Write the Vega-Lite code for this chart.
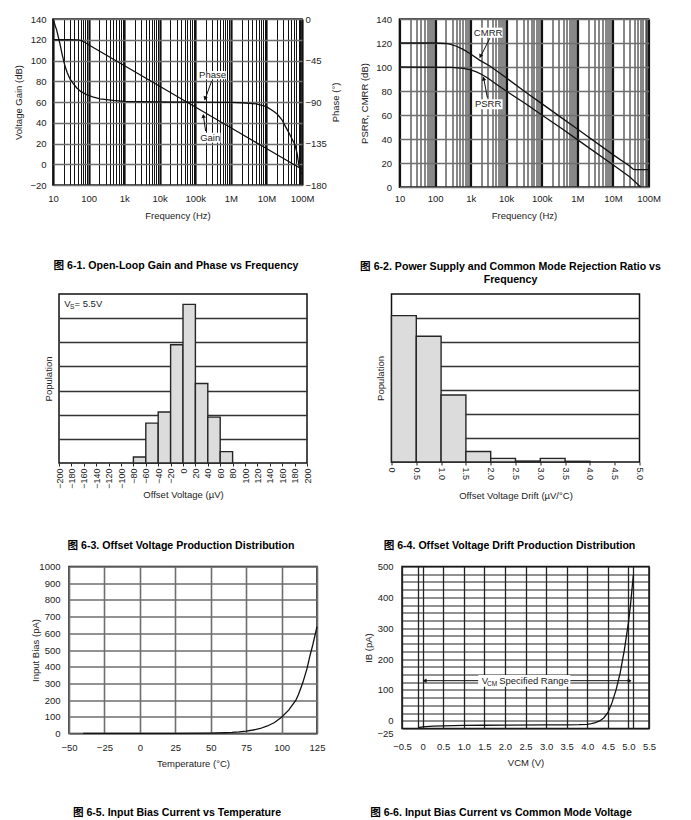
{
"$schema": "https://vega.github.io/schema/vega-lite/v6.json",
"padding": {"left": 0, "top": 13, "right": 5, "bottom": 5},
"background": "white",
"datasets": {
"gain": [{"f":10,"g":120},{"f":30,"g":120},{"f":50,"g":119.9},{"f":60,"g":119.4},{"f":70,"g":118.4},{"f":80,"g":117.3},{"f":100,"g":115.2},{"f":1000,"g":95.2},{"f":10000,"g":75.2},{"f":100000,"g":55.2},{"f":1000000,"g":35.2},{"f":10000000,"g":15.2},{"f":100000000,"g":-4.8}],
"phase": [{"f":10,"p":0},{"f":12.7,"p":-12},{"f":15.7,"p":-27},{"f":18,"p":-38},{"f":21.7,"p":-51},{"f":25,"p":-58},{"f":30,"p":-65},{"f":38,"p":-70.5},{"f":46,"p":-74.5},{"f":60,"p":-78.5},{"f":88,"p":-82},{"f":130,"p":-84.5},{"f":210,"p":-86.5},{"f":490,"p":-88.3},{"f":1000,"p":-89.3},{"f":10000,"p":-90},{"f":1000000,"p":-90.3},{"f":2000000,"p":-90.8},{"f":5200000,"p":-92},{"f":10000000,"p":-95},{"f":15500000,"p":-99.8},{"f":20000000,"p":-103},{"f":27000000,"p":-109},{"f":36000000,"p":-118},{"f":45000000,"p":-125},{"f":63000000,"p":-136},{"f":73000000,"p":-146},{"f":83000000,"p":-160},{"f":90000000,"p":-165},{"f":100000000,"p":-168}],
"rr": [{"s":"CMRR","f":10,"v":120},{"s":"CMRR","f":100,"v":120},{"s":"CMRR","f":200,"v":119.6},{"s":"CMRR","f":260,"v":119},{"s":"CMRR","f":400,"v":117.3},{"s":"CMRR","f":615,"v":114.7},{"s":"CMRR","f":1000,"v":110.8},{"s":"CMRR","f":1820,"v":105.5},{"s":"CMRR","f":3470,"v":100.8},{"s":"CMRR","f":10000,"v":91},{"s":"CMRR","f":37000,"v":78.6},{"s":"CMRR","f":100000,"v":69.5},{"s":"CMRR","f":355000,"v":57.8},{"s":"CMRR","f":1000000,"v":48.3},{"s":"CMRR","f":10000000,"v":27},{"s":"CMRR","f":30000000,"v":17.3},{"s":"CMRR","f":37000000,"v":14.8},{"s":"CMRR","f":42000000,"v":14.5},{"s":"CMRR","f":100000000,"v":14.5},
{"s":"PSRR","f":10,"v":100},{"s":"PSRR","f":300,"v":99.7},{"s":"PSRR","f":615,"v":98.8},{"s":"PSRR","f":1000,"v":97.6},{"s":"PSRR","f":1450,"v":96},{"s":"PSRR","f":2000,"v":94},{"s":"PSRR","f":3000,"v":90.8},{"s":"PSRR","f":5300,"v":85.6},{"s":"PSRR","f":10000,"v":80},{"s":"PSRR","f":37000,"v":69},{"s":"PSRR","f":100000,"v":60},{"s":"PSRR","f":355000,"v":48.9},{"s":"PSRR","f":1000000,"v":39.5},{"s":"PSRR","f":10000000,"v":18.5},{"s":"PSRR","f":30000000,"v":8.3},{"s":"PSRR","f":60000000,"v":0}],
"vos": [{"lo":-80,"hi":-60,"n":0.25},{"lo":-60,"hi":-40,"n":1.65},{"lo":-40,"hi":-20,"n":2.11},{"lo":-20,"hi":0,"n":4.9},{"lo":0,"hi":20,"n":6.57},{"lo":20,"hi":40,"n":3.29},{"lo":40,"hi":60,"n":1.9},{"lo":60,"hi":80,"n":0.47}],
"drift": [{"lo":0,"hi":0.5,"n":6.1},{"lo":0.5,"hi":1,"n":5.24},{"lo":1,"hi":1.5,"n":2.79},{"lo":1.5,"hi":2,"n":0.44},{"lo":2,"hi":2.5,"n":0.15},{"lo":2.5,"hi":3,"n":0.04},{"lo":3,"hi":3.5,"n":0.15},{"lo":3.5,"hi":4,"n":0.03}],
"ibt": [{"t":-40,"i":0.2},{"t":-25,"i":0.3},{"t":0,"i":0.5},{"t":25,"i":1},{"t":50,"i":2.2},{"t":60,"i":4.5},{"t":65,"i":6.5},{"t":70,"i":9.5},{"t":75,"i":14},{"t":80,"i":21},{"t":85,"i":30},{"t":90,"i":45},{"t":95,"i":66},{"t":100,"i":97},{"t":105,"i":140},{"t":110,"i":198},{"t":112,"i":235},{"t":115,"i":305},{"t":118,"i":390},{"t":120,"i":465},{"t":122,"i":530},{"t":125,"i":640}],
"ibv": [{"v":-0.1,"i":-22.5},{"v":0,"i":-20},{"v":0.25,"i":-17.5},{"v":0.5,"i":-16.3},{"v":1,"i":-15},{"v":1.5,"i":-14.5},{"v":2,"i":-14},{"v":3,"i":-13.5},{"v":3.5,"i":-13},{"v":3.8,"i":-12.5},{"v":4,"i":-11.5},{"v":4.1,"i":-9.5},{"v":4.2,"i":-6},{"v":4.3,"i":-0.5},{"v":4.4,"i":9},{"v":4.5,"i":26},{"v":4.6,"i":58},{"v":4.7,"i":100},{"v":4.8,"i":155},{"v":4.9,"i":228},{"v":5,"i":318},{"v":5.05,"i":375},{"v":5.1,"i":445},{"v":5.12,"i":472}]
},
"spacing": 7,
"vconcat": [
{"spacing": 0, "hconcat": [
{"width": 12, "height": 1, "view": {"stroke": null, "fill": null}, "data": {"values": []}, "mark": "point", "encoding": {}},
{"spacing": 17.5, "hconcat": [
{
"width": 249, "height": 166,
"title": {"text": "图 6-1. Open-Loop Gain and Phase vs Frequency", "offset": 41.5, "dx": -1.5},
"encoding": {
 "x": {"field": "f", "type": "quantitative", "scale": {"type": "log", "domain": [10, 100000000], "nice": false},
  "axis": {"values": [10,20,30,40,50,60,70,80,90,100,200,300,400,500,600,700,800,900,1000,2000,3000,4000,5000,6000,7000,8000,9000,10000,20000,30000,40000,50000,60000,70000,80000,90000,100000,200000,300000,400000,500000,600000,700000,800000,900000,1000000,2000000,3000000,4000000,5000000,6000000,7000000,8000000,9000000,10000000,20000000,30000000,40000000,50000000,60000000,70000000,80000000,90000000,100000000],
   "labelExpr": "datum.value == 10 ? '10' : datum.value == 100 ? '100' : datum.value == 1000 ? '1k' : datum.value == 10000 ? '10k' : datum.value == 100000 ? '100k' : datum.value == 1000000 ? '1M' : datum.value == 10000000 ? '10M' : datum.value == 100000000 ? '100M' : ''",
   "grid": true, "gridColor": "#111",
   "gridWidth": {"condition": {"test": "indexof([10,100,1000,10000,100000,1000000,10000000,100000000], datum.value) >= 0", "value": 2.2}, "value": 1},
   "title": "Frequency (Hz)", "labelPadding": 8, "titlePadding": 7.5}}
},
"layer": [
{"encoding": {
  "y": {"field": "g", "type": "quantitative", "scale": {"domain": [-20, 140], "nice": false},
   "axis": {"values": [-20,0,20,40,60,80,100,120,140], "grid": true, "gridColor": "#6f6f6f", "gridWidth": 1.6,
    "title": "Voltage Gain (dB)", "titleAngle": 270, "titleBaseline": "top", "labelPadding": 7, "minExtent": 40, "maxExtent": 40, "titlePadding": 0}}
 },
 "layer": [
  {"data": {"name": "gain"}, "mark": {"type": "line", "color": "#111", "strokeWidth": 1.3}},
  {"data": {"values": [{"f": 129000, "f2": 724000, "g": 81.9, "g2": 89.9}, {"f": 135000, "f2": 515000, "g": 20.8, "g2": 30.4}]},
   "mark": {"type": "rect", "color": "white"}, "encoding": {"x2": {"field": "f2"}, "y2": {"field": "g2"}}},
  {"data": {"values": [{"f": 305000, "g": 86, "t": "Phase"}, {"f": 263000, "g": 25.6, "t": "Gain"}]},
   "mark": {"type": "text", "fontSize": 9.5, "color": "#222", "align": "center", "baseline": "middle"}, "encoding": {"text": {"field": "t"}}},
  {"data": {"values": [{"f": 288000, "g": 80.2, "f2": 186000, "g2": 62}, {"f": 195000, "g": 32, "f2": 168000, "g2": 47.5}]},
   "mark": {"type": "rule", "color": "#111", "strokeWidth": 1}, "encoding": {"x2": {"field": "f2"}, "y2": {"field": "g2"}}},
  {"data": {"values": [{"f": 188000, "g": 63.5}]},
   "mark": {"type": "point", "shape": "triangle-down", "filled": true, "size": 20, "angle": 19, "color": "#111", "opacity": 1}},
  {"data": {"values": [{"f": 169000, "g": 46.5}]},
   "mark": {"type": "point", "shape": "triangle-up", "filled": true, "size": 20, "angle": -8, "color": "#111", "opacity": 1}}
 ]},
{"data": {"name": "phase"}, "mark": {"type": "line", "color": "#111", "strokeWidth": 1.3},
 "encoding": {
  "y": {"field": "p", "type": "quantitative", "scale": {"domain": [-180, 0], "nice": false},
   "axis": {"orient": "right", "values": [0,-45,-90,-135,-180], "grid": false, "title": "Phase (°)", "titleAngle": 270, "titleBaseline": "top", "labelPadding": 3, "minExtent": 25, "maxExtent": 25, "titlePadding": 3}}
 }}
],
"resolve": {"scale": {"y": "independent"}}
},
{
"width": 249, "height": 168,
"title": {"text": ["图 6-2. Power Supply and Common Mode Rejection Ratio vs", "Frequency"], "offset": 41.5, "dx": -13.5, "lineHeight": 13},
"encoding": {
 "x": {"field": "f", "type": "quantitative", "scale": {"type": "log", "domain": [10, 100000000], "nice": false},
  "axis": {"values": [10,20,30,40,50,60,70,80,90,100,200,300,400,500,600,700,800,900,1000,2000,3000,4000,5000,6000,7000,8000,9000,10000,20000,30000,40000,50000,60000,70000,80000,90000,100000,200000,300000,400000,500000,600000,700000,800000,900000,1000000,2000000,3000000,4000000,5000000,6000000,7000000,8000000,9000000,10000000,20000000,30000000,40000000,50000000,60000000,70000000,80000000,90000000,100000000],
   "labelExpr": "datum.value == 10 ? '10' : datum.value == 100 ? '100' : datum.value == 1000 ? '1k' : datum.value == 10000 ? '10k' : datum.value == 100000 ? '100k' : datum.value == 1000000 ? '1M' : datum.value == 10000000 ? '10M' : datum.value == 100000000 ? '100M' : ''",
   "grid": true, "gridColor": "#111",
   "gridWidth": {"condition": {"test": "indexof([10,100,1000,10000,100000,1000000,10000000,100000000], datum.value) >= 0", "value": 2.2}, "value": 1},
   "title": "Frequency (Hz)", "labelPadding": 6.5, "titlePadding": 7.5}},
 "y": {"field": "v", "type": "quantitative", "scale": {"domain": [0, 140], "nice": false},
  "axis": {"values": [0,20,40,60,80,100,120,140], "grid": true, "gridColor": "#6f6f6f", "gridWidth": 1.6,
   "title": "PSRR, CMRR (dB)", "titleAngle": 270, "titleBaseline": "top", "labelPadding": 8, "minExtent": 40, "maxExtent": 40, "titlePadding": 0}}
},
"layer": [
 {"data": {"name": "rr"}, "mark": {"type": "line", "color": "#111", "strokeWidth": 1.3}, "encoding": {"detail": {"field": "s", "type": "nominal"}}},
 {"data": {"values": [{"f": 1230, "f2": 7900, "v": 124.4, "v2": 132.8}, {"f": 1230, "f2": 7900, "v": 64.8, "v2": 73.1}]},
  "mark": {"type": "rect", "color": "white"}, "encoding": {"x2": {"field": "f2"}, "y2": {"field": "v2"}}},
 {"data": {"values": [{"f": 3100, "v": 128.6, "t": "CMRR"}, {"f": 3100, "v": 68.9, "t": "PSRR"}]},
  "mark": {"type": "text", "fontSize": 9.5, "color": "#222", "align": "center", "baseline": "middle"}, "encoding": {"text": {"field": "t"}}},
 {"data": {"values": [{"f": 3470, "v": 124, "f2": 1850, "v2": 108}, {"f": 2950, "v": 74.5, "f2": 2300, "v2": 91.5}]},
  "mark": {"type": "rule", "color": "#111", "strokeWidth": 1}, "encoding": {"x2": {"field": "f2"}, "y2": {"field": "v2"}}},
 {"data": {"values": [{"f": 1880, "v": 109}]},
  "mark": {"type": "point", "shape": "triangle-down", "filled": true, "size": 20, "angle": 27, "color": "#111", "opacity": 1}},
 {"data": {"values": [{"f": 2320, "v": 90.3}]},
  "mark": {"type": "point", "shape": "triangle-up", "filled": true, "size": 20, "angle": -14, "color": "#111", "opacity": 1}}
]
}
]}
]},
{"spacing": 7.5, "vconcat": [
{"spacing": 0, "hconcat": [
{"width": 42, "height": 1, "view": {"stroke": null, "fill": null}, "data": {"values": []}, "mark": "point", "encoding": {}},
{"spacing": 61.5, "hconcat": [
{
"width": 248, "height": 169,
"title": {"text": "图 6-3. Offset Voltage Production Distribution", "offset": 42.5, "dx": -2},
"encoding": {
 "x": {"field": "lo", "type": "quantitative", "scale": {"domain": [-200, 200], "nice": false},
  "axis": {"values": [-200,-180,-160,-140,-120,-100,-80,-60,-40,-20,0,20,40,60,80,100,120,140,160,180,200], "labelAngle": 270, "labelAlign": "right", "labelBaseline": "middle", "labelFontSize": 9,
   "ticks": true, "tickSize": 3, "tickColor": "#222", "tickWidth": 1, "labelPadding": 2, "grid": false, "title": "Offset Voltage (µV)", "titlePadding": 1}},
 "y": {"field": "n", "type": "quantitative", "scale": {"domain": [0, 7], "nice": false},
  "axis": {"values": [1,2,3,4,5,6], "labels": false, "grid": true, "gridColor": "#333", "gridWidth": 1.3,
   "title": "Population", "titleAngle": 270, "titleBaseline": "top", "minExtent": 16, "maxExtent": 16, "titlePadding": 0}}
},
"layer": [
 {"data": {"name": "vos"}, "mark": {"type": "rect", "fill": "#dcdcdc", "stroke": "#262626", "strokeWidth": 1.4},
  "encoding": {"x2": {"field": "hi"}, "y2": {"datum": 0}}},
 {"data": {"values": [{"lo": -191.5, "n": 6.6, "t": "V"}]},
  "mark": {"type": "text", "fontSize": 9.5, "color": "#222", "align": "left", "baseline": "middle"}, "encoding": {"text": {"field": "t"}}},
 {"data": {"values": [{"lo": -182.3, "n": 6.48, "t": "S"}]},
  "mark": {"type": "text", "fontSize": 6.5, "color": "#222", "align": "left", "baseline": "middle"}, "encoding": {"text": {"field": "t"}}},
 {"data": {"values": [{"lo": -175, "n": 6.6, "t": "= 5.5V"}]},
  "mark": {"type": "text", "fontSize": 9.5, "color": "#222", "align": "left", "baseline": "middle"}, "encoding": {"text": {"field": "t"}}}
]
},
{
"width": 248, "height": 168,
"title": {"text": "图 6-4. Offset Voltage Drift Production Distribution", "offset": 40.5, "dx": -6},
"data": {"name": "drift"},
"mark": {"type": "rect", "fill": "#dcdcdc", "stroke": "#262626", "strokeWidth": 1.4},
"encoding": {
 "x": {"field": "lo", "type": "quantitative", "scale": {"domain": [0, 5], "nice": false},
  "axis": {"values": [0,0.5,1,1.5,2,2.5,3,3.5,4,4.5,5], "labelExpr": "datum.value == 0 ? '0' : format(datum.value, '.1f')", "labelAngle": 90, "labelAlign": "left", "labelBaseline": "middle", "labelFontSize": 9,
   "ticks": true, "tickSize": 3, "tickColor": "#222", "tickWidth": 1, "labelPadding": 2, "grid": false, "title": "Offset Voltage Drift (µV/°C)", "titlePadding": 11}},
 "x2": {"field": "hi"},
 "y": {"field": "n", "type": "quantitative", "scale": {"domain": [0, 7], "nice": false},
  "axis": {"values": [1,2,3,4,5,6], "labels": false, "grid": true, "gridColor": "#333", "gridWidth": 1.3,
   "title": "Population", "titleAngle": 270, "titleBaseline": "top", "minExtent": 16, "maxExtent": 16, "titlePadding": 0}},
 "y2": {"datum": 0}
}
}
]}
]},
{"spacing": 0, "hconcat": [
{"width": 29, "height": 1, "view": {"stroke": null, "fill": null}, "data": {"values": []}, "mark": "point", "encoding": {}},
{"spacing": 36, "hconcat": [
{
"width": 248, "height": 167,
"title": {"text": "图 6-5. Input Bias Current vs Temperature", "offset": 40, "dx": -16},
"data": {"name": "ibt"},
"mark": {"type": "line", "color": "#111", "strokeWidth": 1.3},
"encoding": {
 "x": {"field": "t", "type": "quantitative", "scale": {"domain": [-50, 125], "nice": false},
  "axis": {"values": [-50,-25,0,25,50,75,100,125], "grid": true, "gridColor": "#6e6e6e", "gridWidth": 1.6, "title": "Temperature (°C)", "labelPadding": 9, "titlePadding": 6.5}},
 "y": {"field": "i", "type": "quantitative", "scale": {"domain": [0, 1000], "nice": false},
  "axis": {"values": [0,100,200,300,400,500,600,700,800,900,1000], "format": "d", "grid": true, "gridColor": "#6e6e6e", "gridWidth": 1.6,
   "title": "Input Bias (pA)", "titleAngle": 270, "titleBaseline": "top", "labelPadding": 9, "minExtent": 39, "maxExtent": 39, "titlePadding": 0}}
}
},
{
"width": 247, "height": 162,
"title": {"text": "图 6-6. Input Bias Current vs Common Mode Voltage", "offset": 41, "dx": -24.5},
"encoding": {
 "x": {"field": "v", "type": "quantitative", "scale": {"domain": [-0.5, 5.5], "nice": false},
  "axis": {"values": [-0.5,-0.1,0,0.5,1,1.5,2,2.5,3,3.5,4,4.5,5,5.1,5.5], "labelExpr": "datum.value == 0 ? '0' : (datum.value == -0.1 || datum.value == 5.1) ? '' : format(datum.value, '.1f')",
   "grid": true, "gridColor": "#222", "gridWidth": 1.3, "title": "VCM (V)", "labelPadding": 13, "titlePadding": 6.5}},
 "y": {"field": "i", "type": "quantitative", "scale": {"domain": [-25, 500], "nice": false},
  "axis": {"values": [-25,0,25,50,75,100,125,150,175,200,225,250,275,300,325,350,375,400,425,450,475,500],
   "labelExpr": "indexof([-25,0,100,200,300,400,500], datum.value) >= 0 ? format(datum.value, 'd') : ''",
   "labelBaseline": {"condition": {"test": "datum.value == -25", "value": "top"}, "value": "middle"},
   "grid": true, "gridColor": "#222", "gridWidth": 1,
   "title": "IB (pA)", "titleAngle": 270, "titleBaseline": "top", "labelPadding": 9, "minExtent": 39, "maxExtent": 39, "titlePadding": 0}}
},
"layer": [
 {"data": {"name": "ibv"}, "mark": {"type": "line", "color": "#111", "strokeWidth": 1.3}},
 {"data": {"values": [{"v": 1.35, "v2": 3.59, "i": 110, "i2": 148}]},
  "mark": {"type": "rect", "color": "white"}, "encoding": {"x2": {"field": "v2"}, "y2": {"field": "i2"}}},
 {"data": {"values": [{"v": 0.02, "v2": 1.35, "i": 130}, {"v": 3.59, "v2": 5.06, "i": 130}]},
  "mark": {"type": "rule", "color": "#111", "strokeWidth": 1}, "encoding": {"x2": {"field": "v2"}}},
 {"data": {"values": [{"v": 0.05, "i": 130}]},
  "mark": {"type": "point", "shape": "triangle-left", "filled": true, "size": 20, "color": "#111", "opacity": 1}},
 {"data": {"values": [{"v": 5.03, "i": 130}]},
  "mark": {"type": "point", "shape": "triangle-right", "filled": true, "size": 20, "color": "#111", "opacity": 1}},
 {"data": {"values": [{"v": 1.44, "i": 128, "t": "V"}, {"v": 1.86, "i": 128, "t": "Specified Range"}]},
  "mark": {"type": "text", "fontSize": 9.5, "color": "#222", "align": "left", "baseline": "middle"}, "encoding": {"text": {"field": "t"}}},
 {"data": {"values": [{"v": 1.565, "i": 120, "t": "CM"}]},
  "mark": {"type": "text", "fontSize": 6.5, "color": "#222", "align": "left", "baseline": "middle"}, "encoding": {"text": {"field": "t"}}}
]
}
]}
]}
]}
],
"config": {
 "font": "Liberation Sans",
 "view": {"stroke": "#111", "strokeWidth": 1.5},
 "axis": {"labelFont": "Liberation Sans", "titleFont": "Liberation Sans", "labelFontSize": 9.5, "titleFontSize": 9.5, "labelColor": "#222", "titleColor": "#222", "titleFontWeight": "normal", "domain": false, "ticks": false, "labelOverlap": false, "labelFlush": false, "labelBound": false},
 "title": {"font": "Liberation Sans, Noto Sans CJK SC", "fontSize": 10.6, "fontWeight": "bold", "color": "#000", "orient": "bottom", "frame": "group", "anchor": "middle"}
}
}
